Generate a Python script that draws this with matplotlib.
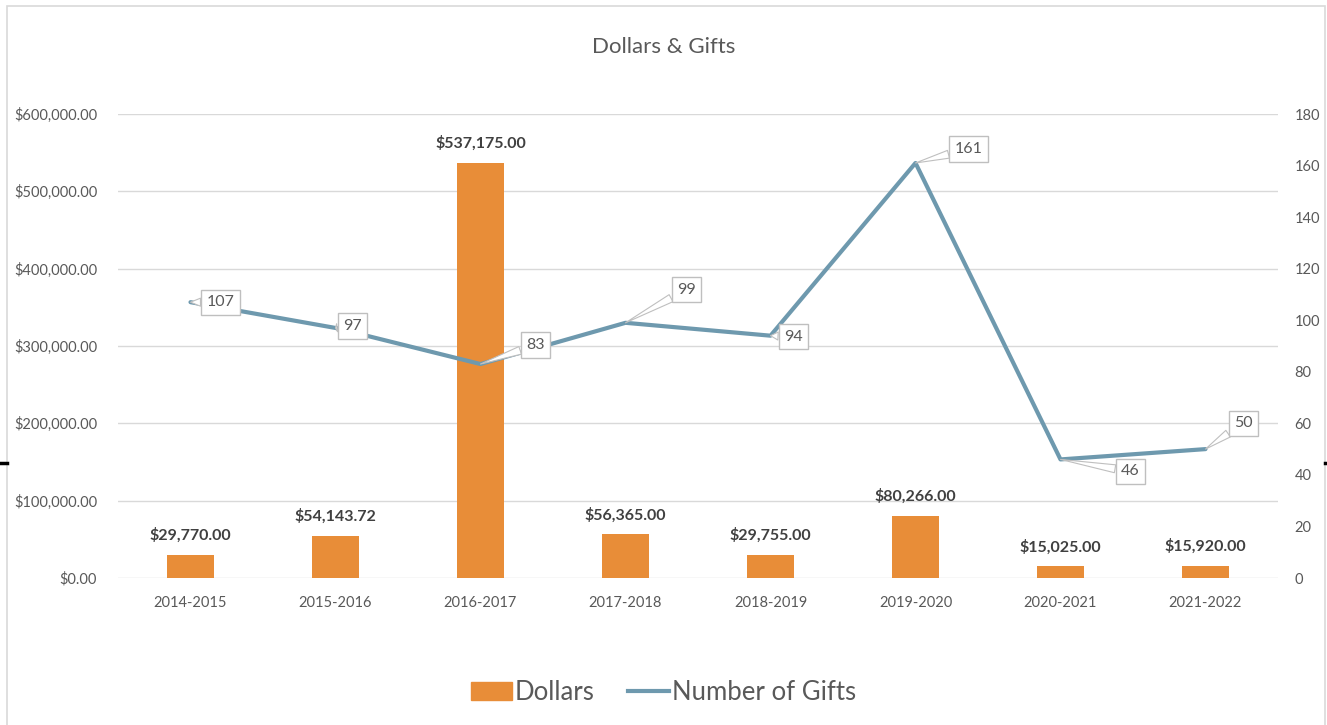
import matplotlib.pyplot as plt
from matplotlib.lines import Line2D
from matplotlib.patches import Rectangle
import numpy as np

years = ["2014-2015", "2015-2016", "2016-2017", "2017-2018",
         "2018-2019", "2019-2020", "2020-2021", "2021-2022"]
dollars = [29770.00, 54143.72, 537175.00, 56365.00,
           29755.00, 80266.00, 15025.00, 15920.00]
gifts = [107, 97, 83, 99, 94, 161, 46, 50]

# where each callout box sits relative to its point (pixels)
callout_offsets = [(30, 0), (17, 2), (55, 19), (61, 33),
                   (23, -1), (53, 14), (70, -12), (38, 26)]

bar_color = "#E88D38"
line_color = "#6E99AE"
text_color = "#595959"
grid_color = "#D9D9D9"

plt.rcParams['font.family'] = ['Lato', 'DejaVu Sans']

fig = plt.figure(figsize=(13.27, 7.25), dpi=100)
ax = fig.add_axes([118 / 1327, 147 / 725, 1160 / 1327, 464 / 725])
ax2 = ax.twinx()

x = np.arange(len(years))
bars = ax.bar(x, dollars, width=0.32, color=bar_color, zorder=2, label="Dollars")
ax.set_ylim(0, 600000)
ax.set_xlim(-0.5, len(years) - 0.5)
ax.set_yticks(np.arange(0, 600001, 100000))
ax.set_yticklabels([f"${v:,.2f}" for v in np.arange(0, 600001, 100000)])
ax.set_xticks(x)
ax.set_xticklabels(years)
ax.grid(axis='y', color=grid_color, lw=1, zorder=0)
ax.set_axisbelow(True)

for b, v in zip(bars, dollars):
    ax.annotate(f"${v:,.2f}", (b.get_x() + b.get_width() / 2, v),
                xytext=(0, 12), textcoords='offset pixels',
                ha='center', va='bottom', fontsize=11.5, fontweight='bold',
                color="#404040")

ax2.plot(x, gifts, color=line_color, lw=3, solid_capstyle='round', zorder=3,
         label="Number of Gifts")
ax2.set_ylim(0, 180)
ax2.set_yticks(np.arange(0, 181, 20))

for xi, g, (dx, dy) in zip(x, gifts, callout_offsets):
    ax2.annotate(str(g), (xi, g), xytext=(dx, dy), textcoords='offset pixels',
                 ha='center', va='center', fontsize=11.5, color=text_color,
                 bbox=dict(boxstyle='square,pad=0.35', fc='white', ec='#BFBFBF', lw=1),
                 arrowprops=dict(arrowstyle='wedge,tail_width=0.5,shrink_factor=0.5',
                                 fc='white', ec='#BFBFBF', lw=0.8,
                                 shrinkA=0, shrinkB=0),
                 zorder=5)

for a in (ax, ax2):
    for s in a.spines.values():
        s.set_visible(False)
    a.tick_params(length=0, labelsize=10.5, colors=text_color)
ax.tick_params(axis='x', pad=13)
ax.tick_params(axis='y', pad=15)
ax2.tick_params(axis='y', pad=12)

fig.text(0.5, 1 - 47 / 725, "Dollars & Gifts", ha='center', va='center',
         fontsize=16, color=text_color)

handles = [Rectangle((0, 0), 1, 1, color=bar_color),
           Line2D([0], [0], color=line_color, lw=3)]
leg = fig.legend(handles, ["Dollars", "Number of Gifts"], loc='center',
                 bbox_to_anchor=(0.5, 1 - 692 / 725), ncol=2, frameon=False,
                 fontsize=18.5, handlelength=1.6, handletextpad=0.1,
                 columnspacing=1.3, labelcolor=text_color)

# chart frame and stray marks at the sides
fig.add_artist(Rectangle((7 / 1327, -0.01), 1318 / 1327, 1 - 6 / 725 + 0.01,
                         transform=fig.transFigure, fill=False,
                         ec=grid_color, lw=1.2))
fig.add_artist(Line2D([0, 7 / 1327], [1 - 463 / 725] * 2,
                      transform=fig.transFigure, color='black', lw=2.5))
fig.add_artist(Line2D([1325 / 1327, 1], [1 - 463 / 725] * 2,
                      transform=fig.transFigure, color='black', lw=2.5))

fig.savefig("out.png", dpi=100)
